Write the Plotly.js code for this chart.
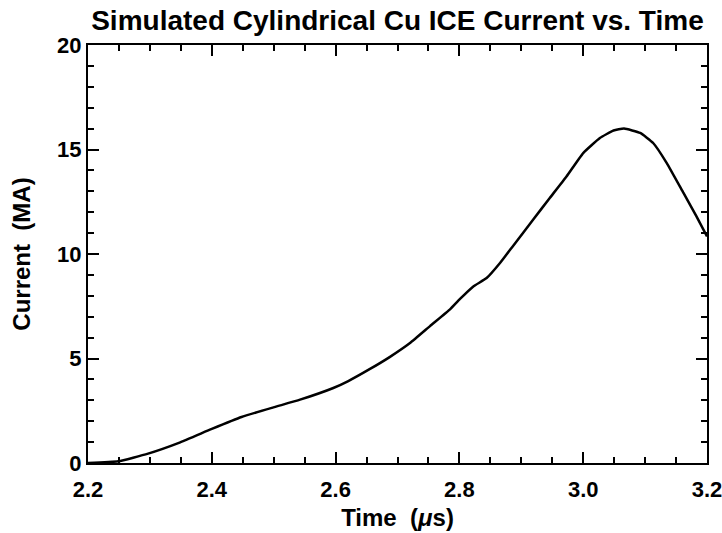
<!DOCTYPE html>
<html>
<head>
<meta charset="utf-8">
<script src="https://cdn.plot.ly/plotly-3.0.1.min.js"></script>
<style>html,body{margin:0;padding:0;background:#fff;}#chart{width:722px;height:533px;}</style>
</head>
<body>
<div id="chart"></div>
<script>
const timeUs = [2.200, 2.249, 2.297, 2.349, 2.400, 2.448, 2.4995, 2.5425, 2.5963, 2.6205, 2.6556, 2.6879, 2.7202, 2.7525, 2.7848, 2.801, 2.8225, 2.844, 2.8656, 2.887, 2.919, 2.946, 2.973, 3.000, 3.027, 3.049, 3.066, 3.092, 3.113, 3.135, 3.162, 3.183, 3.200];
const currentMA = [0.00, 0.08, 0.45, 0.99, 1.63, 2.20, 2.66, 3.03, 3.59, 3.92, 4.50, 5.08, 5.74, 6.55, 7.35, 7.85, 8.45, 8.85, 9.57, 10.40, 11.64, 12.68, 13.71, 14.83, 15.55, 15.91, 16.00, 15.79, 15.31, 14.35, 12.92, 11.80, 10.84];
const xTickVals = [2.2, 2.4, 2.6, 2.8, 3.0, 3.2];
const xTickText = ['2.2', '2.4', '2.6', '2.8', '3.0', '3.2'];
const yTickVals = [0, 5, 10, 15, 20];
const yTickText = ['0', '5', '10', '15', '20'];

const font = 'Liberation Sans, Arial, Helvetica, sans-serif';
const trace = {
  x: timeUs, y: currentMA, type: 'scatter', mode: 'lines',
  line: {color: '#000', width: 2.5, shape: 'spline', smoothing: 0.4},
  hoverinfo: 'skip'
};
const axisCommon = {
  showgrid: false, zeroline: false, showline: true, linecolor: '#000', linewidth: 2,
  mirror: 'allticks', ticks: 'inside', tickcolor: '#000', tickwidth: 2, ticklen: 11,
  tickfont: {family: font, size: 22, color: '#000', weight: 'bold'},
  tickmode: 'array', ticklabeloverflow: 'allow'
};
const layout = {
  width: 722, height: 533,
  margin: {l: 88, r: 15, t: 45, b: 70},
  paper_bgcolor: '#fff', plot_bgcolor: '#fff',
  showlegend: false,
  title: {text: '<b>Simulated Cylindrical Cu ICE Current vs. Time</b>', x: 0.5505, xanchor: 'center', y: 0.962, yanchor: 'middle',
          font: {family: font, size: 28, color: '#000'}},
  xaxis: Object.assign({}, axisCommon, {
    range: [2.2, 3.2], tickvals: xTickVals, ticktext: xTickText, ticklabelstandoff: 6,
    minor: {dtick: 0.05, tick0: 2.2, ticks: 'inside', ticklen: 6, tickwidth: 2, tickcolor: '#000'},
    title: {text: '<b>Time\u00a0\u00a0(<i>μ</i>s)</b>', font: {family: font, size: 24, color: '#000'}, standoff: 8}
  }),
  yaxis: Object.assign({}, axisCommon, {
    range: [0, 20], tickvals: yTickVals, ticktext: yTickText,
    minor: {dtick: 1, tick0: 0, ticks: 'inside', ticklen: 6, tickwidth: 2, tickcolor: '#000'},
    title: {text: '<b>Current\u00a0\u00a0(MA)</b>', font: {family: font, size: 24, color: '#000'}, standoff: 20}
  })
};
Plotly.newPlot('chart', [trace], layout, {staticPlot: true, displayModeBar: false});
</script>
</body>
</html>
